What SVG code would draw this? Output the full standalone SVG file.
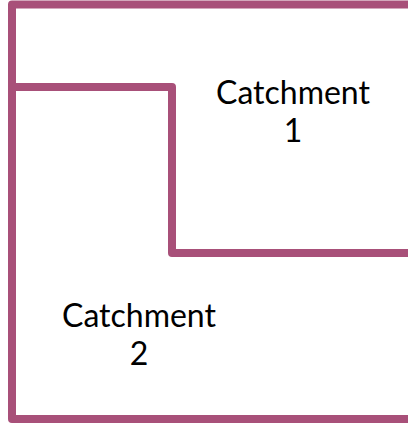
<svg xmlns="http://www.w3.org/2000/svg" width="408" height="425" viewBox="0 0 408 425">
<style>
.b{fill:none;stroke:#a85079;stroke-width:8;stroke-linejoin:round;stroke-linecap:butt}
.t{font-family:Lato,"Liberation Sans",sans-serif;font-size:32px;fill:#000;text-anchor:middle}
</style>
<rect width="408" height="425" fill="#fff"/>
<g id="boundaries">
<path class="b" d="M412,4.5 H12 V419 H412"/>
<path class="b" d="M12,87 H172 V253 H412"/>
</g>
<g id="catchment1"><text class="t" x="293" y="104">Catchment</text><text class="t" x="293" y="142">1</text></g>
<g id="catchment2"><text class="t" x="139" y="327">Catchment</text><text class="t" x="139" y="365">2</text></g>
</svg>
